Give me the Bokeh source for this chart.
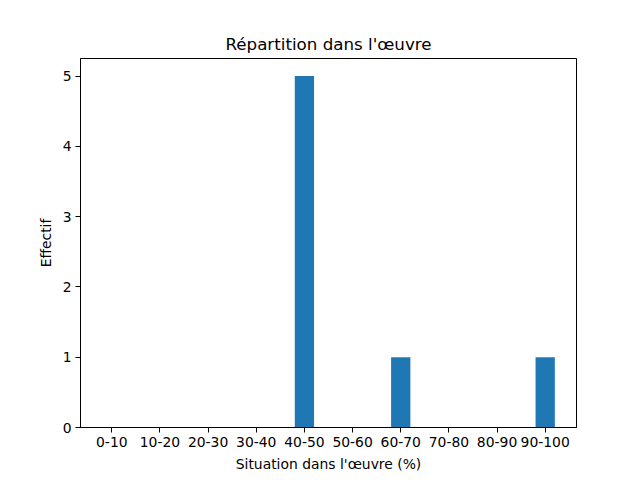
from bokeh.plotting import figure
from bokeh.models import Range1d, FixedTicker
from bokeh.embed import file_html
from bokeh.resources import INLINE

categories = ["0-10", "10-20", "20-30", "30-40", "40-50", "50-60", "60-70", "70-80", "80-90", "90-100"]
counts = [0, 0, 0, 0, 5, 0, 1, 0, 0, 1]
y_ticks = [0, 1, 2, 3, 4, 5]

positions = list(range(len(categories)))
FONT = "DejaVu Sans"

p = figure(width=632, height=472, output_backend="svg", toolbar_location=None,
           x_range=Range1d(-0.65, len(categories) - 1 + 0.65),
           y_range=Range1d(0, max(counts) * 1.05),
           title="Répartition dans l'œuvre",
           min_border_left=80, min_border_right=56, min_border_top=58, min_border_bottom=45)
p.frame_width = 496
p.frame_height = 369

p.vbar(x=positions, top=counts, width=0.4, bottom=0, color="#1f77b4", line_color=None)

p.title.align = "center"
p.title.text_font = FONT
p.title.text_font_size = "16.7px"
p.title.text_font_style = "normal"
p.title.text_color = "black"
p.title.standoff = 9

p.xgrid.visible = False
p.ygrid.visible = False
p.outline_line_color = "black"
p.outline_line_width = 1
p.outline_line_alpha = 1

p.xaxis.ticker = FixedTicker(ticks=positions)
p.xaxis.major_label_overrides = {i: c for i, c in enumerate(categories)}
p.yaxis.ticker = FixedTicker(ticks=y_ticks)
p.xaxis.axis_label = "Situation dans l'œuvre (%)"
p.yaxis.axis_label = "Effectif"

for ax in (p.xaxis[0], p.yaxis[0]):
    ax.major_tick_out = 5
    ax.major_tick_in = 0
    ax.minor_tick_out = 0
    ax.minor_tick_in = 0
    ax.axis_line_color = "black"
    ax.major_tick_line_color = "black"
    ax.major_label_text_font = FONT
    ax.major_label_text_font_size = "13.9px"
    ax.major_label_text_color = "black"
    ax.axis_label_text_font = FONT
    ax.axis_label_text_font_size = "13.9px"
    ax.axis_label_text_font_style = "normal"
    ax.axis_label_text_color = "black"
    ax.major_label_standoff = 4
    ax.axis_label_standoff = 6

open("out.html", "w").write(file_html(p, INLINE))
